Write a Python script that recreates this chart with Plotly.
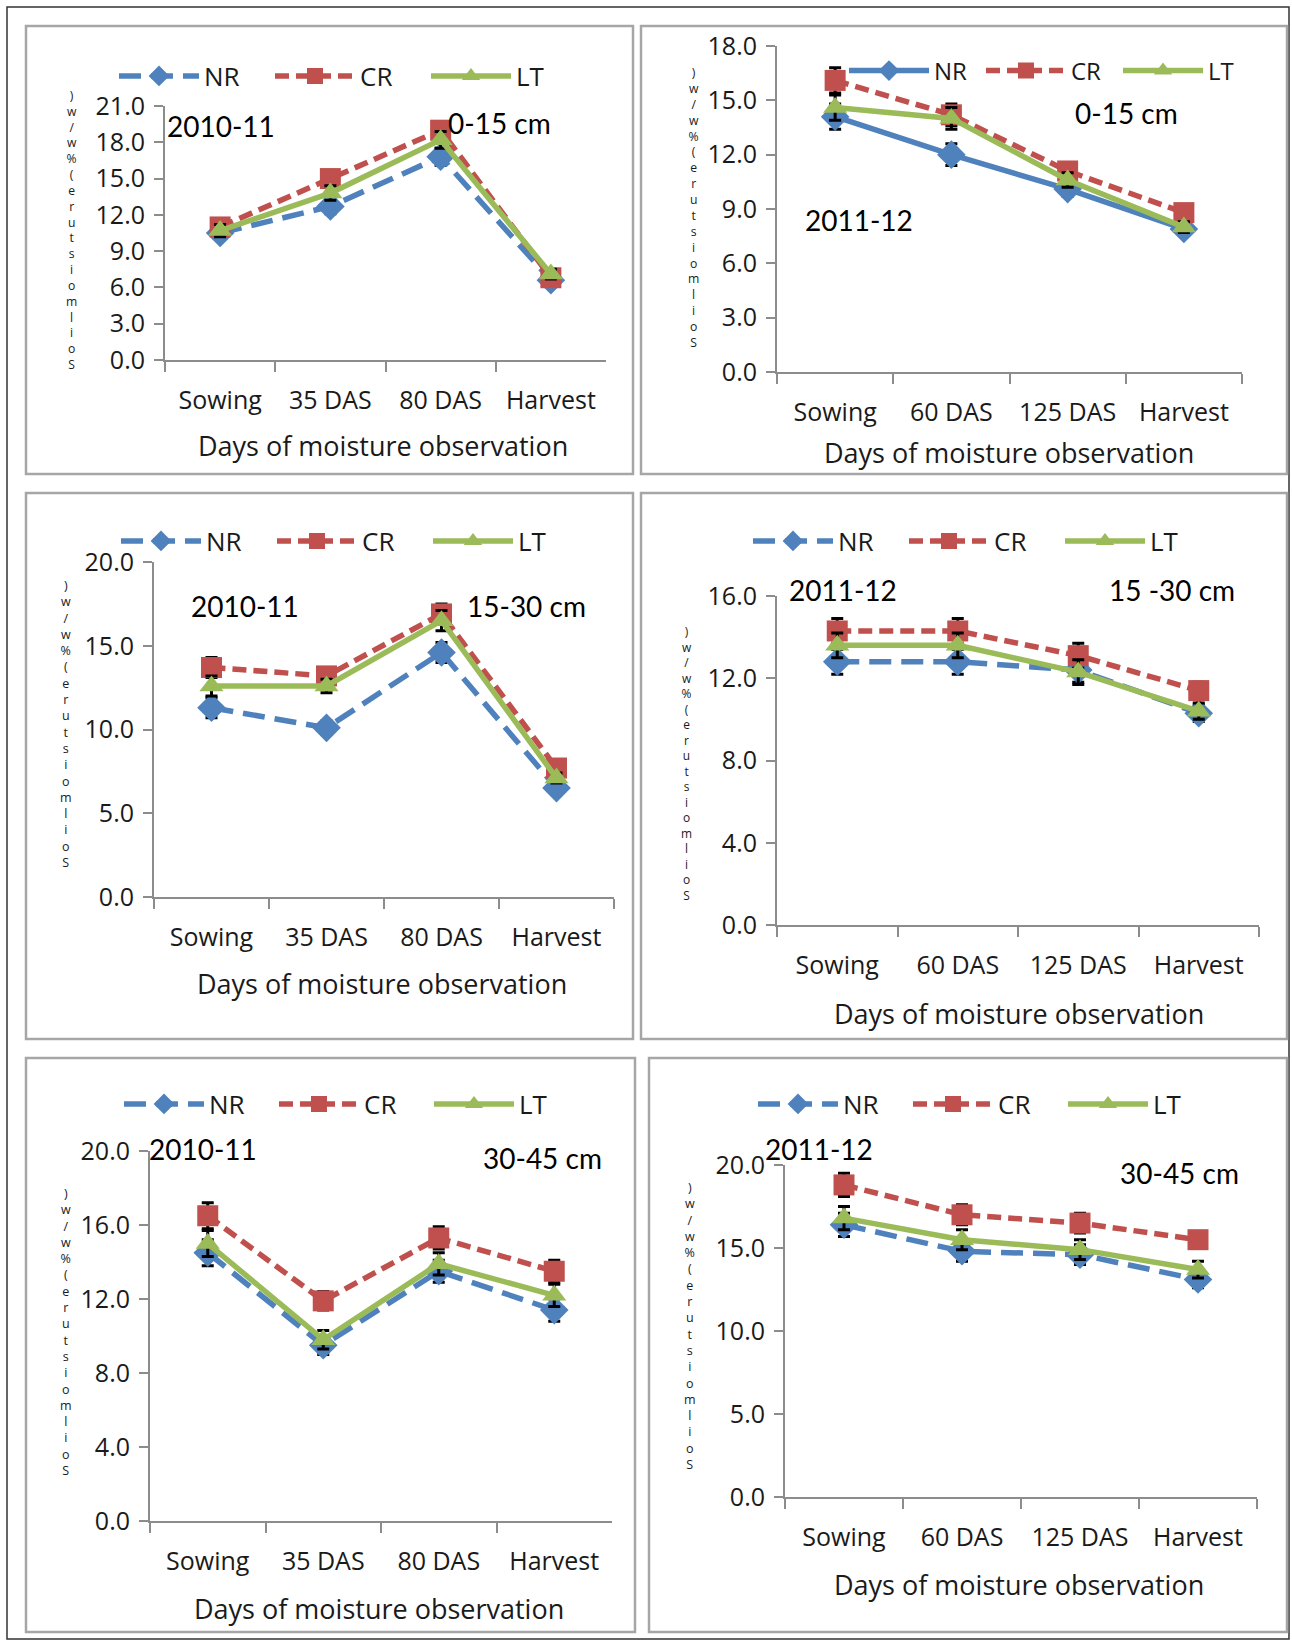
import plotly.graph_objects as go

W, H = 1292, 1646

# ---------------- data ----------------
cats_2010 = ["Sowing", "35 DAS", "80 DAS", "Harvest"]
cats_2011 = ["Sowing", "60 DAS", "125 DAS", "Harvest"]
series_names = ["NR", "CR", "LT"]

p1_nr = [10.5, 12.7, 16.8, 6.6]
p1_cr = [11.0, 15.0, 19.0, 6.8]
p1_lt = [10.7, 13.8, 18.2, 7.1]
p1_err = [0.5, 0.6, 0.7, 0.4]

p2_nr = [14.1, 12.0, 10.1, 7.9]
p2_cr = [16.1, 14.2, 11.1, 8.8]
p2_lt = [14.6, 14.0, 10.6, 8.0]
p2_err = [0.7, 0.6, 0.4, 0.3]

p3_nr = [11.3, 10.1, 14.6, 6.5]
p3_cr = [13.7, 13.2, 16.9, 7.7]
p3_lt = [12.6, 12.6, 16.5, 7.1]
p3_err = [0.6, 0.4, 0.6, 0.3]

p4_nr = [12.8, 12.8, 12.4, 10.3]
p4_cr = [14.3, 14.3, 13.1, 11.4]
p4_lt = [13.6, 13.6, 12.3, 10.4]
p4_err = [0.6, 0.6, 0.6, 0.4]

p5_nr = [14.5, 9.5, 13.5, 11.4]
p5_cr = [16.5, 11.9, 15.3, 13.5]
p5_lt = [15.0, 9.8, 13.9, 12.2]
p5_err = [0.7, 0.5, 0.6, 0.6]

p6_nr = [16.4, 14.8, 14.6, 13.1]
p6_cr = [18.8, 17.0, 16.5, 15.5]
p6_lt = [16.8, 15.5, 14.9, 13.7]
p6_err = [0.7, 0.6, 0.6, 0.5]

year_labels = ["2010-11", "2011-12", "2010-11", "2011-12", "2010-11", "2011-12"]
depth_labels = ["0-15 cm", "0-15 cm", "15-30 cm", "15 -30 cm", "30-45 cm", "30-45 cm"]
y_max = [21, 18, 20, 16, 20, 20]
y_dtick = [3, 3, 5, 4, 4, 5]
x_title = "Days of moisture observation"
y_title = "Soil moisture (%w/w)"

# ---------------- styling / layout (pixels) ----------------
colors = {"NR": "#4F81BD", "CR": "#C0504D", "LT": "#9BBB59"}
symbols = {"NR": "diamond", "CR": "square", "LT": "triangle-up"}
msize = {"NR": 22, "CR": 21, "LT": 21}
FONT = "Open Sans"
TXT = "#1a1a1a"
AX = "#8c8c8c"

panels = [
    dict(cats=cats_2010, vals=[p1_nr, p1_cr, p1_lt], err=p1_err, box=(26, 26, 633, 474),
         plot=(165, 106, 606, 360), nr_dash="22px,10px",
         leg=(114, 76, 61, 26), year=(165, 126), depth=(446, 123),
         xt=(383, 446), yl=(71, 96, 365)),
    dict(cats=cats_2011, vals=[p2_nr, p2_cr, p2_lt], err=p2_err, box=(641, 26, 1287, 474),
         plot=(777, 46, 1242, 372), nr_dash="solid",
         leg=(844, 71, 42, 24), year=(803, 220), depth=(1073, 113),
         xt=(1009, 452), yl=(693, 72, 342)),
    dict(cats=cats_2010, vals=[p3_nr, p3_cr, p3_lt], err=p3_err, box=(26, 493, 633, 1039),
         plot=(154, 562, 614, 897), nr_dash="22px,10px",
         leg=(116, 541, 61, 26), year=(189, 606), depth=(465, 606),
         xt=(382, 984), yl=(66, 586, 863)),
    dict(cats=cats_2011, vals=[p4_nr, p4_cr, p4_lt], err=p4_err, box=(641, 493, 1287, 1039),
         plot=(777, 596, 1259, 925), nr_dash="22px,10px",
         leg=(748, 541, 61, 26), year=(787, 590), depth=(1107, 590),
         xt=(1019, 1013), yl=(686, 631, 895)),
    dict(cats=cats_2010, vals=[p5_nr, p5_cr, p5_lt], err=p5_err, box=(26, 1058, 635, 1632),
         plot=(150, 1151, 612, 1521), nr_dash="22px,10px",
         leg=(119, 1104, 60, 26), year=(147, 1149), depth=(481, 1158),
         xt=(379, 1608), yl=(66, 1193, 1470)),
    dict(cats=cats_2011, vals=[p6_nr, p6_cr, p6_lt], err=p6_err, box=(649, 1058, 1287, 1632),
         plot=(785, 1165, 1257, 1497), nr_dash="22px,10px",
         leg=(753, 1104, 60, 26), year=(763, 1149), depth=(1118, 1173),
         xt=(1019, 1584), yl=(690, 1187, 1464)),
]


def fx(px):
    return px / W


def fy(py):
    return 1 - py / H


fig = go.Figure()
shapes = []
annotations = []
layout = dict(width=W, height=H,
              margin=dict(l=0, r=0, t=0, b=0, pad=0, autoexpand=False),
              paper_bgcolor="white", plot_bgcolor="white", autosize=False,
              font=dict(family=FONT, color=TXT))

# outer frame
shapes.append(dict(type="rect", xref="paper", yref="paper", x0=fx(7), x1=fx(1289),
                   y0=fy(1639), y1=fy(7), line=dict(color="#333333", width=1.5)))

for i, p in enumerate(panels):
    n = i + 1
    sfx = "" if n == 1 else str(n)
    xa, ya = "x" + sfx, "y" + sfx
    leg_name = "legend" + sfx
    dashes = {"NR": p["nr_dash"], "CR": "14px,7px", "LT": "solid"}
    for name, vals in zip(series_names, p["vals"]):
        fig.add_trace(go.Scatter(
            x=p["cats"], y=vals, name=name, mode="lines+markers",
            xaxis=xa, yaxis=ya, legend=leg_name,
            line=dict(color=colors[name], width=5.5, dash=dashes[name]),
            marker=dict(symbol=symbols[name], size=msize[name], color=colors[name],
                        line=dict(width=0)),
            error_y=dict(type="data", array=p["err"], color="black", thickness=3, width=6),
        ))
    x0, y0, x1, y1 = p["plot"]
    layout["xaxis" + sfx] = dict(
        domain=[fx(x0), fx(x1)], anchor=ya, type="category",
        categoryorder="array", categoryarray=p["cats"], range=[-0.5, 3.5],
        tickson="boundaries", ticks="outside", ticklen=10, tickwidth=2, tickcolor=AX,
        showline=True, linecolor=AX, linewidth=2, showgrid=False, zeroline=False,
        tickangle=0, automargin=False,
        tickfont=dict(family=FONT, size=25, color=TXT), ticklabelstandoff=17,
        fixedrange=True)
    layout["yaxis" + sfx] = dict(
        domain=[fy(y1), fy(y0)], anchor=xa, range=[0, y_max[i]], dtick=y_dtick[i],
        tick0=0, tickformat=".1f", ticks="outside", ticklen=9, tickwidth=2, tickcolor=AX,
        showline=True, linecolor=AX, linewidth=2, showgrid=False, zeroline=False,
        automargin=False,
        tickfont=dict(family=FONT, size=25, color=TXT), ticklabelstandoff=4,
        fixedrange=True)
    lx, lyc, ew, lfs = p["leg"]
    layout[leg_name] = dict(
        orientation="h", x=fx(lx), y=fy(lyc), xanchor="left", yanchor="middle",
        xref="paper", yref="paper", bgcolor="rgba(0,0,0,0)", borderwidth=0,
        font=dict(family=FONT, size=lfs, color=TXT), itemwidth=80,
        entrywidth=ew, entrywidthmode="pixels", tracegroupgap=0,
        itemclick=False, itemdoubleclick=False)
    # panel frame
    bx0, by0, bx1, by1 = p["box"]
    shapes.append(dict(type="rect", xref="paper", yref="paper", x0=fx(bx0), x1=fx(bx1),
                       y0=fy(by1), y1=fy(by0), line=dict(color="#a6a6a6", width=2.5)))
    # panel labels
    annotations.append(dict(text=year_labels[i], x=fx(p["year"][0]), y=fy(p["year"][1]),
                            xref="paper", yref="paper", xanchor="left", yanchor="middle",
                            showarrow=False, font=dict(family="Lato", size=28, color="black")))
    annotations.append(dict(text=depth_labels[i], x=fx(p["depth"][0]), y=fy(p["depth"][1]),
                            xref="paper", yref="paper", xanchor="left", yanchor="middle",
                            showarrow=False, font=dict(family="Lato", size=28, color="black")))
    annotations.append(dict(text=x_title, x=fx(p["xt"][0]), y=fy(p["xt"][1]),
                            xref="paper", yref="paper", xanchor="center", yanchor="middle",
                            showarrow=False, font=dict(family=FONT, size=27, color=TXT)))
    # stacked y-axis label (characters stacked, reading bottom to top), one text block
    chars = [c for c in y_title if c != " "][::-1]
    cx, ytop, ybot = p["yl"]
    pitch = (ybot - ytop) / (len(chars) - 1)
    fs = pitch / 1.3
    annotations.append(dict(text="<br>".join(chars), x=fx(cx), y=fy((ytop + ybot) / 2),
                            xref="paper", yref="paper", xanchor="center", yanchor="middle",
                            align="center", showarrow=False,
                            font=dict(family=FONT, size=fs, color=TXT)))

layout["shapes"] = shapes
layout["annotations"] = annotations
layout["showlegend"] = True
fig.update_layout(**layout)
fig.write_html("out.html")
